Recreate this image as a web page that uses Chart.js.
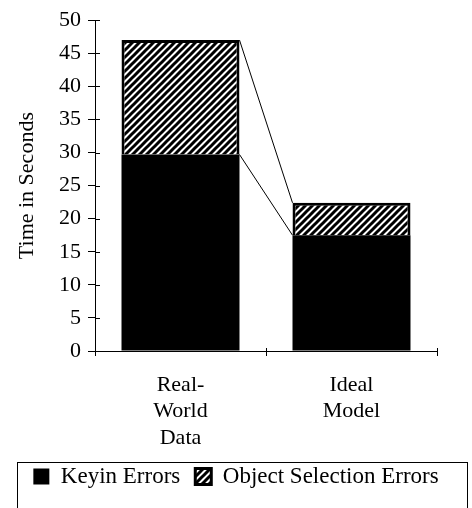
<!DOCTYPE html>
<html>
<head>
<meta charset="utf-8">
<script src="https://cdn.jsdelivr.net/npm/chart.js@4"></script>
<style>
  html, body { margin: 0; padding: 0; background: #fff; }
  #wrap { width: 472px; height: 508px; }
</style>
</head>
<body>
<div id="wrap"><canvas id="chart" width="472" height="508"></canvas></div>
<script>
// data
const categories = [['Real-', 'World', 'Data'], ['Ideal', 'Model']];
const keyinErrors = [29.7, 17.5];
const selectionErrors = [17.3, 4.9];
const yTicks = { min: 0, max: 50, step: 5 };

const serif = '"Liberation Serif", "DejaVu Serif", serif';

// diagonal hatch pattern for the object selection errors
function makeHatch() {
    const c = document.createElement('canvas');
    c.width = 7; c.height = 7;
    const g = c.getContext('2d');
    g.fillStyle = '#fff';
    g.fillRect(0, 0, 7, 7);
    g.strokeStyle = '#000';
    g.lineWidth = 3;
    g.beginPath();
    g.moveTo(-2, 9); g.lineTo(9, -2);
    g.moveTo(-9, 9); g.lineTo(2, -2);
    g.moveTo(5, 9); g.lineTo(16, -2);
    g.stroke();
    return g.createPattern(c, 'repeat');
}
const hatch = makeHatch();

// lines joining the tops of the stacked segments, plus crossing tick marks and legend frame
const extrasPlugin = {
    id: 'extras',
    afterDatasetsDraw(chart) {
        const ctx = chart.ctx;
        ctx.save();
        ctx.strokeStyle = '#000';
        ctx.lineWidth = 1;
        chart.data.datasets.forEach((ds, i) => {
            const bars = chart.getDatasetMeta(i).data;
            for (let k = 0; k < bars.length - 1; k++) {
                const a = bars[k], b = bars[k + 1];
                ctx.beginPath();
                ctx.moveTo(a.x + a.width / 2, a.y);
                ctx.lineTo(b.x - b.width / 2, b.y);
                ctx.stroke();
            }
        });
        // inner halves of the tick marks
        const y = chart.scales.y, x = chart.scales.x;
        y.ticks.forEach(t => {
            const py = Math.round(y.getPixelForValue(t.value)) + 0.5;
            ctx.beginPath();
            ctx.moveTo(y.right, py);
            ctx.lineTo(y.right + 5, py);
            ctx.stroke();
        });
        [1, 2].forEach(n => {
            const px = Math.round(x.left + (x.right - x.left) * n / categories.length) + 0.5;
            ctx.beginPath();
            ctx.moveTo(px, x.top - 3);
            ctx.lineTo(px, x.top);
            ctx.stroke();
        });
        ctx.restore();
    },
    afterDraw(chart) {
        // frame round the legend
        const ctx = chart.ctx;
        ctx.save();
        ctx.strokeStyle = '#000';
        ctx.lineWidth = 1;
        ctx.strokeRect(17.5, 462.5, 450, 50);
        ctx.restore();
    }
};

new Chart(document.getElementById('chart'), {
    type: 'bar',
    data: {
        labels: categories,
        datasets: [{
            label: 'Keyin Errors',
            data: keyinErrors,
            backgroundColor: '#000',
            borderColor: '#000',
            borderWidth: 0
        }, {
            label: 'Object Selection Errors',
            data: selectionErrors,
            backgroundColor: hatch,
            borderColor: '#000',
            borderWidth: 3
        }]
    },
    options: {
        responsive: false,
        animation: false,
        events: [],
        barPercentage: 0.69,
        categoryPercentage: 1,
        layout: { padding: { top: 9, right: 0, left: 0, bottom: 10 } },
        scales: {
            x: {
                stacked: true,
                border: { color: '#000', width: 1 },
                grid: { drawOnChartArea: false, color: '#000', tickLength: 5, offset: true },
                ticks: {
                    color: '#000',
                    padding: 16,
                    maxRotation: 0,
                    font: { family: serif, size: 22, lineHeight: 1.2 }
                },
                afterFit(scale) { scale.height = 99; }
            },
            y: {
                stacked: true,
                min: yTicks.min,
                max: yTicks.max,
                border: { color: '#000', width: 1 },
                grid: { drawOnChartArea: false, color: '#000', tickLength: 7 },
                ticks: {
                    stepSize: yTicks.step,
                    color: '#000',
                    padding: 7,
                    font: { family: serif, size: 22 }
                },
                title: {
                    display: true,
                    text: 'Time in Seconds',
                    color: '#000',
                    padding: { top: 14, bottom: 4 },
                    font: { family: serif, size: 22 }
                },
                afterFit(scale) { scale.width = 95; }
            },
            // empty axis that only keeps the right margin
            yRight: {
                position: 'right',
                grid: { display: false },
                border: { display: false },
                ticks: { display: false },
                afterFit(scale) { scale.width = 35; }
            }
        },
        plugins: {
            legend: {
                position: 'bottom',
                labels: {
                    color: '#000',
                    boxWidth: 16,
                    boxHeight: 16,
                    padding: 15,
                    font: { family: serif, size: 23 }
                }
            },
            tooltip: { enabled: false }
        }
    },
    plugins: [extrasPlugin]
});
</script>
</body>
</html>
